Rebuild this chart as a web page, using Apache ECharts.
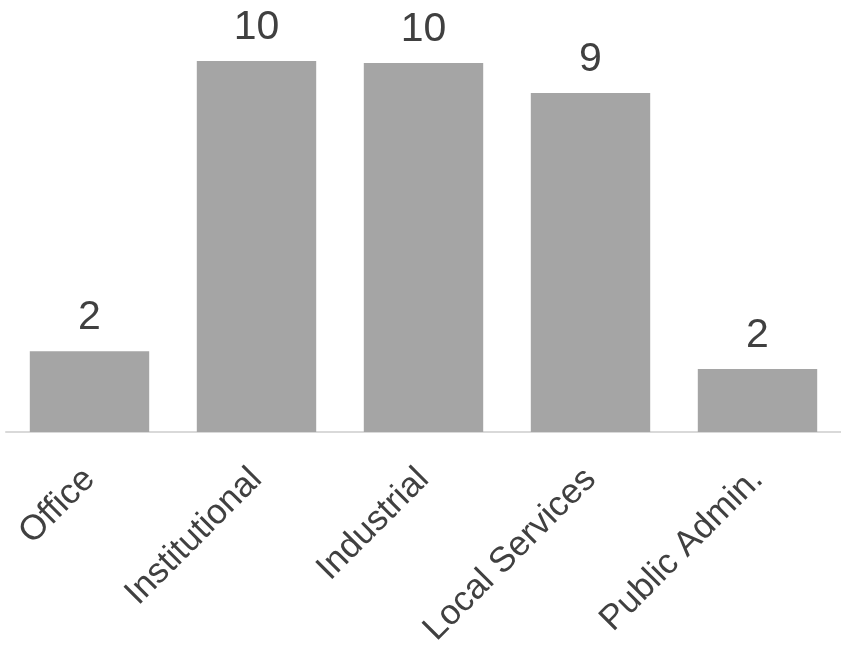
<!DOCTYPE html>
<html><head><meta charset="utf-8">
<script src="https://cdn.jsdelivr.net/npm/echarts@6/dist/echarts.min.js"></script>
<style>html,body{margin:0;padding:0;background:#fff}#c{width:841px;height:653px}</style>
</head><body><div id="c"></div>
<script>
var categories = ["Office", "Institutional", "Industrial", "Local Services", "Public Admin."];
var values = [2.18, 10.0, 9.95, 9.14, 1.70];

var chart = echarts.init(document.getElementById('c'), null, {renderer: 'canvas'});
chart.setOption({
  animation: false,
  backgroundColor: '#ffffff',
  grid: {left: 6, right: -4, top: 24, bottom: 221, containLabel: false},
  xAxis: {
    type: 'category',
    data: categories,
    axisLine: {show: true, lineStyle: {color: '#d9d9d9', width: 2}},
    axisTick: {show: false},
    axisLabel: {rotate: 45, fontSize: 35, color: '#404040', fontFamily: 'Liberation Sans, Arial', margin: 42, interval: 0}
  },
  yAxis: {
    type: 'value', min: 0, max: 11,
    show: false, splitLine: {show: false}
  },
  series: [{
    type: 'bar',
    data: values,
    barCategoryGap: '28.5%',
    itemStyle: {color: '#a5a5a5'},
    label: {show: true, position: 'top', distance: 13, fontSize: 41, color: '#404040', fontFamily: 'Liberation Sans, Arial',
      formatter: function(p){ return Math.round(p.value); }}
  }]
});
</script></body></html>
